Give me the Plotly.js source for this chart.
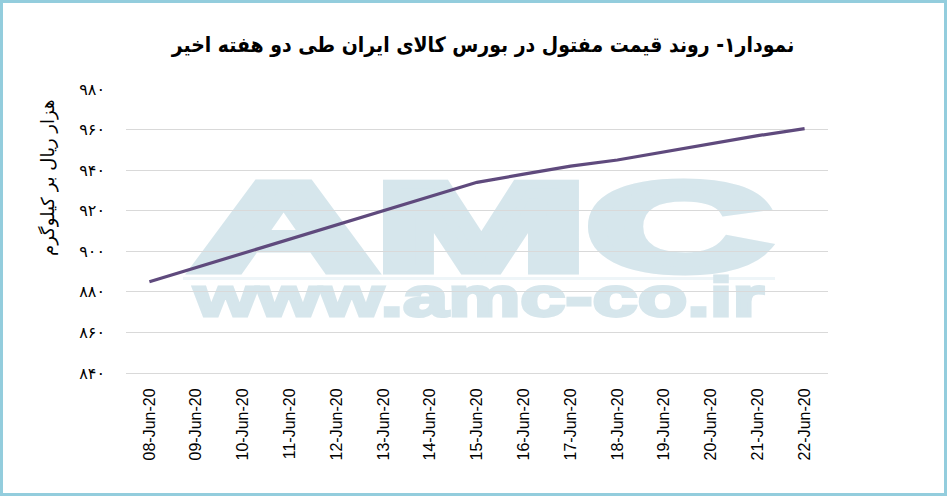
<!DOCTYPE html>
<html>
<head>
<meta charset="utf-8">
<script src="https://cdn.plot.ly/plotly-3.0.1.min.js"></script>
<style>
  html, body { margin:0; padding:0; background:#ffffff; }
  #wrap { position:relative; width:947px; height:496px; overflow:hidden; background:#ffffff; }
  #wm { position:absolute; left:0; top:0; z-index:0; }
  #chart { position:absolute; left:0; top:0; width:947px; height:496px; z-index:1; }
  #frame { position:absolute; left:0; top:0; width:947px; height:496px; box-sizing:border-box;
           border:3px solid #93cddd; z-index:2; pointer-events:none; }
</style>
</head>
<body>
<div id="wrap">
  <svg id="wm" width="947" height="496" xmlns="http://www.w3.org/2000/svg">
    <text x="192" y="270" font-family="Liberation Sans, Arial, sans-serif" font-weight="bold"
          font-size="124" fill="#d6e6ec" stroke="#d6e6ec" stroke-width="9" stroke-linejoin="miter"
          textLength="578" lengthAdjust="spacingAndGlyphs">AMC</text>
    <rect x="183" y="277" width="592" height="3" fill="#eef5f8"></rect>
    <text x="194" y="316" font-family="Liberation Sans, Arial, sans-serif" font-weight="bold"
          font-size="56" fill="#d6e6ec" stroke="#d6e6ec" stroke-width="3"
          textLength="570" lengthAdjust="spacingAndGlyphs">www.amc-co.ir</text>
  </svg>
  <div id="chart"></div>
  <div id="frame"></div>
</div>
<script>
// ---- data ----
const dates = ["08-Jun-20","09-Jun-20","10-Jun-20","11-Jun-20","12-Jun-20","13-Jun-20","14-Jun-20",
               "15-Jun-20","16-Jun-20","17-Jun-20","18-Jun-20","19-Jun-20","20-Jun-20","21-Jun-20","22-Jun-20"];
const prices = [885, 892, 899, 906, 913, 920, 927, 934, 938, 942, 945, 949, 953, 957, 960.5];
const yTickVals = [840, 860, 880, 900, 920, 940, 960, 980];
const yTickText = ["۸۴۰","۸۶۰","۸۸۰","۹۰۰","۹۲۰","۹۴۰","۹۶۰","۹۸۰"];
const chartTitle = "نمودار۱- روند قیمت مفتول در بورس کالای ایران طی دو هفته اخیر";
const yTitle = "هزار ریال بر کیلوگرم";

const trace = {
  x: dates, y: prices, type: "scatter", mode: "lines",
  line: { color: "#5f4a7d", width: 3.2 },
  hoverinfo: "x+y"
};

const layout = {
  width: 947, height: 496,
  margin: { l: 126, r: 119, t: 89, b: 123 },
  paper_bgcolor: "rgba(0,0,0,0)",
  plot_bgcolor: "rgba(0,0,0,0)",
  showlegend: false,
  title: {
    text: "<b>" + chartTitle + "</b>",
    font: { family: "DejaVu Sans Condensed, DejaVu Sans, sans-serif", size: 21, color: "#000000" },
    x: 0.51, xref: "container", xanchor: "center",
    y: 0.909, yref: "container", yanchor: "middle"
  },
  xaxis: {
    type: "category",
    range: [-0.5, dates.length - 0.5],
    tickangle: -90,
    showgrid: false,
    showline: true, linecolor: "#d9d9d9", linewidth: 1,
    ticks: "",
    tickfont: { family: "Liberation Sans, Arial, sans-serif", size: 16, color: "#000000" },
    ticklabelstandoff: 8,
    zeroline: false,
    fixedrange: true
  },
  yaxis: {
    range: [840, 980],
    tickvals: yTickVals,
    ticktext: yTickText,
    showgrid: true, gridcolor: "#d9d9d9", gridwidth: 1,
    showline: false, zeroline: false,
    ticks: "",
    tickfont: { family: "DejaVu Sans, sans-serif", size: 16, color: "#000000" },
    ticklabelstandoff: 20,
    fixedrange: true
  },
  annotations: [{
    text: yTitle,
    xref: "paper", yref: "paper",
    x: -0.111, y: 0.687,
    xanchor: "center", yanchor: "middle",
    textangle: -90,
    showarrow: false,
    font: { family: "DejaVu Sans, sans-serif", size: 18, color: "#000000" }
  }]
};

Plotly.newPlot("chart", [trace], layout, { displayModeBar: false, staticPlot: true });
</script>
</body>
</html>
